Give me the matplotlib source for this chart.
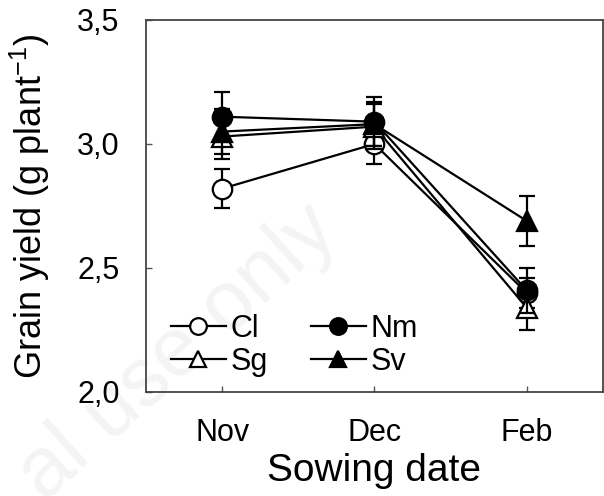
import matplotlib
matplotlib.use('Agg')
import matplotlib.pyplot as plt
from matplotlib.lines import Line2D
from matplotlib.ticker import FuncFormatter

plt.rcParams['font.family'] = ['Liberation Sans', 'DejaVu Sans']
plt.rcParams['mathtext.fontset'] = 'custom'
plt.rcParams['mathtext.rm'] = 'Liberation Sans'

months = ['Nov', 'Dec', 'Feb']
x = [1, 2, 3]

cl = [2.82, 3.00, 2.40]
cl_err = [0.08, 0.08, 0.06]
sg = [3.03, 3.07, 2.34]
sg_err = [0.09, 0.09, 0.09]
sv = [3.05, 3.08, 2.69]
sv_err = [0.09, 0.09, 0.10]
nm = [3.11, 3.09, 2.41]
nm_err = [0.10, 0.10, 0.09]

fig = plt.figure(figsize=(6.04, 4.96), dpi=100)
ax = fig.add_axes([0.2417, 0.2097, 0.7563, 0.75])

# faint watermark behind everything
fig.text(0.565, 0.525, 'al use only', rotation=42, rotation_mode='anchor',
         ha='right', va='baseline', fontsize=60, color='#f4f4f4', zorder=-5)
ax.patch.set_alpha(0)

style = dict(color='black', lw=1.6, markersize=14, capsize=6, elinewidth=1.6,
             capthick=1.6, markeredgewidth=1.6, markeredgecolor='black')
series = [
    ('Cl', cl, cl_err, 'o', 'white'),
    ('Sg', sg, sg_err, '^', 'white'),
    ('Sv', sv, sv_err, '^', 'black'),
    ('Nm', nm, nm_err, 'o', 'black'),
]
handles = {}
for i, (name, vals, errs, mk, fc) in enumerate(series):
    ax.errorbar(x, vals, yerr=errs, marker=mk, markerfacecolor=fc,
                zorder=3 + i, **style)
    handles[name] = Line2D([], [], color='black', lw=1.6, marker=mk, markersize=12,
                           markerfacecolor=fc, markeredgecolor='black',
                           markeredgewidth=1.6)

ax.set_xlim(0.5, 3.5)
ax.set_ylim(2.0, 3.5)
ax.set_xticks(x)
ax.set_xticklabels(months)
ax.set_yticks([2.0, 2.5, 3.0, 3.5])
ax.yaxis.set_major_formatter(FuncFormatter(lambda v, p: f'{v:.1f}'.replace('.', ',')))
ax.tick_params(direction='in', length=4, width=1, labelsize=22, color='#555555')
ax.tick_params(axis='y', pad=19)
ax.tick_params(axis='x', pad=19)

for s in ax.spines.values():
    s.set_color('#444444')
    s.set_linewidth(1.3)

ax.set_xlabel('Sowing date', fontsize=28)
ax.set_ylabel(r'Grain yield (g plant$^{\mathregular{-1}}$)', fontsize=26)
ax.xaxis.set_label_coords(0.5, -0.165)
ax.yaxis.set_label_coords(-0.205, 0.5)

order = ['Cl', 'Sg', 'Nm', 'Sv']
ax.legend([handles[k] for k in order], order, ncol=2, loc='lower left',
          bbox_to_anchor=(0.028, 0.008), frameon=False, fontsize=22,
          handlelength=1.8, handletextpad=0.15, columnspacing=1.4,
          labelspacing=0.1, borderaxespad=0)

fig.savefig('out.png', dpi=100)
